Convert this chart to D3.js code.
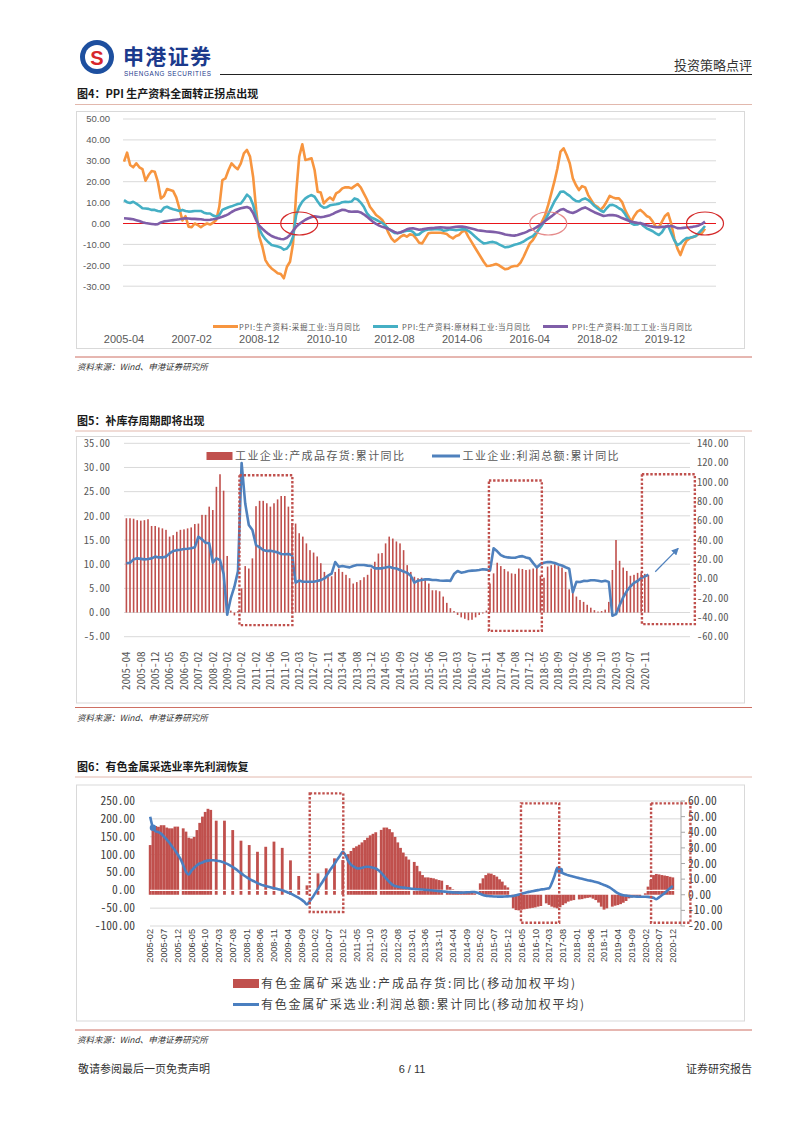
<!DOCTYPE html>
<html><head><meta charset="utf-8">
<script src="https://cdn.jsdelivr.net/npm/d3@7"></script>
<style>body{margin:0;background:#fff}svg{display:block}</style>
</head><body><svg id="c" width="802" height="1133"></svg>
<script>
// ================= DATA =================
// Chart 1 (图4): monthly, 2005-04 .. 2021-01
const c1Ticks = ['2005-04','2007-02','2008-12','2010-10','2012-08','2014-06','2016-04','2018-02','2019-12'];
const c1YTicks = [50,40,30,20,10,0,-10,-20,-30];
const c1Names = ['PPI:生产资料:采掘工业:当月同比','PPI:生产资料:原材料工业:当月同比','PPI:生产资料:加工工业:当月同比'];
const ppiMining = [29.6,33.9,28,26.9,28.8,26.9,26,20.5,23.2,25.1,
24.8,20,12,13.2,16.5,16,15.5,12.5,7.3,1.5,
3.5,-1.5,-1.8,0,-0.7,-1.8,-0.7,0,-0.5,0.4,
1.7,8,20.8,21.6,25.6,28.8,27.2,26,28.8,33.6,
35.2,32,22.4,6.5,-6.3,-11,-17.5,-19.9,-21.5,-22.6,
-23.8,-24.2,-26.2,-20.7,-18.3,-9.5,14.4,32,37.9,30.4,
30.7,31.2,25.6,15.2,14.8,9.6,11.2,12.5,11.2,14.4,
15.2,16.8,17.3,17.3,16.8,17.9,18.9,17.3,14.4,11.6,
8,6.1,4.1,3,1.7,-0.7,-4.4,-7.1,-8.7,-7.6,
-6.3,-5.5,-6.3,-5.2,-5.5,-7.1,-9.2,-9.5,-7.1,-4.7,
-4.4,-4.4,-4.4,-4.4,-4.7,-5,-6.3,-7.1,-6,-5.5,
-3.9,-3.4,-6.3,-8.7,-11.1,-13.5,-15.9,-18.3,-20.3,-20.2,
-19.9,-19.4,-20,-21,-21.9,-21.6,-20.7,-20.3,-20.3,-18.7,
-15.9,-12.7,-9.5,-7.9,-5.5,-2.3,0.9,4.1,8.9,14.4,
20,26.4,34.4,36,32.8,28.8,21.6,18.4,16,17.9,
17.3,13.6,11.2,8.9,8,6.5,8,10.4,13.2,12.5,
12,12,10.4,6.5,3.6,0.9,3.6,5.7,6.5,5.2,
3.6,2.9,0.9,-1.5,-1.8,0.9,3.6,4.9,0.1,-7.1,
-11.9,-15.1,-11.1,-8.2,-7.1,-6.6,-6,-5,-4.5,-2.5];
const ppiRaw = [11.2,10.2,9.8,10.4,9.5,8.5,7.3,7.2,7,6.5,
6.5,6,5.7,7.5,8,7.3,6.8,6.5,6,6.5,
6,5.7,5.8,6,6,6,5.2,4.8,4.8,3.8,
3.3,4,6.5,7.2,7.8,8.2,8.8,9.3,9.6,11.5,
13.8,12.5,9,3,-2.5,-5.5,-7.5,-9,-10.3,-10.6,
-11,-11.5,-12.5,-12,-10,-6.3,4,8,10.5,12,
13,13.6,12.8,10.5,8.5,7.6,7.8,8.7,9,9.2,
9.5,10.2,10.4,10.3,10.5,12,11.5,10,8,5,
3.3,2.5,1.8,1,0.3,-1,-2.5,-3.5,-4.5,-4.7,
-4.3,-3.8,-3.5,-3.3,-4,-5.5,-5.2,-4,-3.2,-2.9,
-2.8,-2.7,-2.7,-2.8,-3.5,-3.2,-2.8,-3,-3.2,-3,
-2.8,-2.7,-3.5,-4.6,-6,-7.3,-8.5,-9.5,-9.3,-9,
-8.8,-9.2,-10,-10.7,-11.4,-11.2,-10.8,-10.2,-9.8,-9.3,
-8.6,-7.6,-6.8,-6,-4.5,-2.8,-0.8,1.5,4.5,7.5,
10.5,12.8,15.2,15.3,14.2,13.2,11.8,10.8,10.5,11.5,
12,11.2,10,8.5,7.3,6.2,5.5,7.3,8.8,8.9,
8.3,7.3,6.5,4.5,2,0.1,-0.6,-0.5,0.3,-1.2,
-2.3,-3,-3.7,-4.7,-5.5,-4.2,-1.8,-1,-4.5,-8,
-10.3,-9.5,-8,-7,-6.8,-6.5,-6,-4.5,-3,-1.2];
const ppiProc = [2.5,2.4,2.2,2,1.6,1.2,0.6,0.2,0,-0.2,
-0.4,-0.3,0.5,1,1.2,1.4,1.6,1.8,2,2.3,
2.5,2.4,2.2,2.2,2.1,2,1.8,1.7,1.8,2,
2.3,2.8,3.2,3.8,4.5,5.5,6.3,6.8,7.3,7.6,
7.9,7.3,5,1.5,-1,-2.5,-3.8,-5,-6,-6.6,
-7.1,-7.4,-7.5,-6.8,-5.5,-3.5,-1.6,-0.3,0.8,1.8,
2.5,3.1,3.4,3.2,3,3.2,3.6,4,4.6,5.4,
6,6.6,6.4,5.8,5.6,5.7,5.7,5.3,4.4,3.3,
2,0.8,-0.2,-1,-1.6,-2,-2.6,-3.3,-4,-4.6,
-4.2,-3.5,-2.8,-2.4,-2.3,-2.6,-3,-2.8,-2.5,-2.3,
-2.2,-2.1,-1.9,-1.8,-1.9,-2.1,-2,-1.8,-1.6,-1.5,
-1.5,-1.7,-2,-2.4,-2.8,-3.2,-3.4,-3.6,-3.8,-3.9,
-4,-4.2,-4.4,-4.8,-5.3,-5.5,-5.7,-5.8,-5.5,-5,
-4.6,-4,-3.2,-2.8,-2,-1,0,1.2,2.3,3.4,
4.6,5.6,6.6,6.9,6,5.4,5,5.6,6.4,7.2,
7.7,7,6.2,5.4,4.8,4.2,3.6,3.8,4.1,4,
3.8,3.3,2.6,2,1.4,0.9,0.6,0.3,0.1,-0.3,
-0.8,-1.2,-1.5,-1.8,-1.8,-1.6,-1.5,-1.3,-1.2,-1.6,
-2.2,-2.3,-2.1,-1.9,-1.8,-1.6,-1.3,-0.9,-0.2,0.9];
const c1Circles = [{m:'2010-01',c:'#d42a2a'},{m:'2016-10',c:'#e58a8a'},{m:'2021-01',c:'#d42a2a'}];

// Chart 2 (图5)
const c2Cats = ['2005-04','2005-05','2005-06','2005-07','2005-08','2005-09','2005-10','2005-11','2005-12',
'2006-02','2006-03','2006-04','2006-05','2006-06','2006-07','2006-08','2006-09','2006-10','2006-11','2006-12',
'2007-02','2007-05','2007-08','2007-11','2008-02','2008-05','2008-08','2008-11',
'2009-02','2009-05','2009-08','2009-11','2010-02','2010-05','2010-08','2010-11',
'2011-02','2011-03','2011-04','2011-05','2011-06','2011-07','2011-08','2011-09','2011-10','2011-11','2011-12',
'2012-02','2012-03','2012-04','2012-05','2012-06','2012-07','2012-08','2012-09','2012-10','2012-11','2012-12',
'2013-02','2013-03','2013-04','2013-05','2013-06','2013-07','2013-08','2013-09','2013-10','2013-11','2013-12',
'2014-02','2014-03','2014-04','2014-05','2014-06','2014-07','2014-08','2014-09','2014-10','2014-11','2014-12',
'2015-02','2015-03','2015-04','2015-05','2015-06','2015-07','2015-08','2015-09','2015-10','2015-11','2015-12',
'2016-02','2016-03','2016-04','2016-05','2016-06','2016-07','2016-08','2016-09','2016-10','2016-11','2016-12',
'2017-02','2017-03','2017-04','2017-05','2017-06','2017-07','2017-08','2017-09','2017-10','2017-11','2017-12',
'2018-02','2018-03','2018-04','2018-05','2018-06','2018-07','2018-08','2018-09','2018-10','2018-11','2018-12',
'2019-02','2019-03','2019-04','2019-05','2019-06','2019-07','2019-08','2019-09','2019-10','2019-11','2019-12',
'2020-02','2020-03','2020-04','2020-05','2020-06','2020-07','2020-08','2020-09','2020-10','2020-11','2020-12'];
const c2Ticks = ['2005-04','2005-08','2005-12','2006-05','2006-09','2007-02','2008-02','2009-02','2010-02','2011-02','2011-06','2011-10',
'2012-03','2012-07','2012-11','2013-04','2013-08','2013-12','2014-05','2014-09','2015-02','2015-06','2015-10','2016-03','2016-07',
'2016-11','2017-04','2017-08','2017-12','2018-05','2018-09','2019-02','2019-06','2019-10','2020-03','2020-07','2020-11'];
const c2LeftTicks = [35,30,25,20,15,10,5,0,-5];
const c2RightTicks = [140,120,100,80,60,40,20,0,-20,-40,-60];
const c2Names = ['工业企业:产成品存货:累计同比','工业企业:利润总额:累计同比'];
const inventoryYoY = [19.5,19.5,19.4,19.1,19.0,19.1,19.3,17.9,17.9,
17.6,17.4,17.1,15.7,16.0,16.7,17.1,17.2,17.4,17.6,18.3,
18.4,20.2,20.2,21.9, 21.2,26.0,28.6,25.2, 11.7,0.4,-0.6,0.3, 5.0,9.6,9.1,11.2,
22.0,23.1,23.1,22.6,21.9,22.6,23.4,24.1,24.1,21.9,18.5,
18.4,16.4,15.7,14.3,12.9,12.4,11.6,10.2,8.4,7.4,7.5,
8.4,9.1,8.4,7.8,7.1,6.0,6.3,6.7,7.3,7.8,9.1,
10.5,12.2,12.3,14.3,15.7,15.3,14.7,14.3,12.9,9.8,8.4,
7.4,7.1,7.2,6.7,6.0,4.6,4.6,4.4,3.3,2.0,0.9,
0.3,-0.5,-1.0,-1.3,-1.6,-1.5,-1.0,-0.5,-0.2,0.4,6.0,
8.1,10.3,9.6,9.0,8.5,8.1,8.0,9.1,9.0,8.8,8.9,
9.1,9.3,7.6,7.2,9.5,9.8,10.0,9.6,9.3,8.4,4.8,
4.3,3.3,2.6,2.2,1.6,1.0,0.5,0.2,0.3,0.6,2.2,
8.8,15.0,10.7,9.3,8.6,7.6,7.8,8.2,8.3,8.0,7.8];
const profitYoY = [15.9,16.5,20,21,20.5,20,20.3,21,22.8,
22,22,22.8,26.2,28.6,29.5,30,30.7,31,31.4,32.4,
43.4,40.7,37.2,36.6, 16.6,21,19.3,4.9, -37.3,-20,-8.3,7.8, 119.7,78,55.5,50.3,
34.8,32.4,29.7,28.6,29,28,27.2,25.5,25.2,25.5,24.5,
-4.1,-2,-3.1,-3.1,-3.1,-3.1,-2.4,-1.5,0.3,3.1,5.3,
17.2,12.4,13.1,12.4,11.7,13.1,14.1,14.1,14.1,13.5,13.1,
10.7,10.7,10.7,11.5,12.4,11,10.5,9,7.5,6,3,
-4.2,-2.1,-1.4,-0.7,-0.7,-1.4,-1.4,-1.8,-2.1,-1.9,-2.3,
4.8,7.9,6.2,6.9,7.9,8.3,8.4,9,9.7,9.4,8.5,
31.5,28.3,24.4,22.7,22,21.6,21.6,22.8,23.3,21.9,21,
16.1,11.6,15,16.5,17.2,17.1,16.2,14.7,13.6,11.8,10.3,
-14,-3.3,-3.4,-2.3,-2.4,-1.7,-1.7,-2.1,-2.9,-2.1,-3.3,
-38.3,-36.7,-27.4,-19.3,-12.8,-8.1,-4.4,-2.4,0.7,2.4,4.1];
// dotted boxes: [fromIndex, toIndex, topValue(left), bottomValue(left)]
const c2Boxes = [[31.4,46.1,28.4,-2.6],[100.7,115.4,27.3,-3.8],[143.2,157.9,28.6,-2.4]];
const c2Arrow = [[146.9,7.2],[153.3,31.4]]; // [index, right-axis value]

// Chart 3 (图6): monthly 2005-02 .. 2020-12
const c3Ticks = ['2005-02','2005-07','2005-12','2006-05','2006-10','2007-03','2007-08','2008-01','2008-06','2008-11','2009-04','2009-09',
'2010-02','2010-07','2010-12','2011-05','2011-10','2012-03','2012-08','2013-01','2013-06','2013-11','2014-04','2014-09','2015-02',
'2015-07','2015-12','2016-05','2016-10','2017-03','2017-08','2018-01','2018-06','2018-11','2019-04','2019-09','2020-02','2020-07','2020-12'];
const c3LeftTicks = [250,200,150,100,50,0,-50,-100];
const c3RightTicks = [60,50,40,30,20,10,0,-10,-20];
const c3Names = ['有色金属矿采选业:产成品存货:同比(移动加权平均)','有色金属矿采选业:利润总额:累计同比(移动加权平均)'];
const metalInventory = [31.8,43,44,43.5,44.5,44.5,43,42.5,42.5,43.6,43.6,
null,42.5,40.4,36.5,36,37,41.4,46,50,53,55,54.3,
null,47.4,null,null,47.4,null,null,41.4,null,null,34.6,null,
null,31.8,null,null,27.5,null,null,30.7,null,null,34,null,
null,30,null,null,22,null,null,12,null,null,6,null,
null,null,13.7,null,null,16.9,null,null,23.3,null,null,22.2,
null,26,28,30,31,32,33.5,35,36.5,38,39,40,
null,41.5,43,43,42,40,37,33.5,30,27,24.5,22.5,
null,21,18.5,15,12.6,11.1,11.1,10.8,10.5,9.9,9.4,9,
null,6.2,5,3.5,3,2.6,2.2,2,2,1.6,1.3,0.9,
null,7.3,10.5,12.6,13.7,13.5,12.6,11.6,9.9,8.4,6,4.7,
null,-8.7,-9.8,-10,-9.6,-9.3,-9,-8.7,-8.4,-8.1,-7.6,-7.2,
null,-5.5,-6.5,-7.6,-8.2,-8.7,-8,-6.6,-5.5,-4.4,-3.8,-3.4,
null,-3,-2.8,-2.3,-2,-1.7,-2.5,-3.4,-5,-7.6,-9.5,-8.7,
null,-7.6,-7,-6.6,-6,-5.1,-4,-2.3,-1.8,-1.2,-1,-0.8,
null,0.9,5.2,9.4,12.6,13.3,13,12.6,12.3,12,11.5,11.1];
const metalProfit = [206,175,165,163,158,150,142,133,122,112,100,
88,70,52,44,55,63,70,75,78,81,83,84,
84,83,82,80,77,74,70,65,60,54,48,42,
37,32,28,24,20,17,14,12,10,8,6,4,
2,0,-3,-6,-9,-13,-17,-21,-26,-32,-40,-30,
-20,-8,4,16,28,40,52,63,74,86,97,108,
98,82,72,66,62,61,63,65,66,65,63,61,
56,49,40,31,23,16,12,10,8.5,7.5,6.5,5.5,
4.5,3.5,3,2.5,2,1.2,0.8,0,-0.8,-1.5,-2.3,-3,
-3.8,-4.5,-5.2,-5.8,-6.3,-6.6,-6.5,-6.2,-5.8,-5.3,-5,-4.8,
-7,-10,-13,-15,-16,-16.8,-17.3,-17.6,-17.8,-17.8,-17.5,-17,
-16.5,-16,-14,-12,-9.5,-7.5,-5.5,-4,-2.5,-1,0.5,2,
3,4.5,5.5,20,40,63,55,48,45,42,40,38,
36,34,32,30,28,27,25,23,21,18,15,12,
8,3,-3,-8,-12,-14,-15,-16,-17,-17.5,-17.8,-18,
-18,-18,-18.5,-19.5,-21,-25,-20,-14,-8,-1,6,12];
const c3Markers = ['2005-03','2017-07'];
// dotted boxes: [fromIndex, toIndex, topValue(right), bottomValue(right)]
const c3Boxes = [[58.0,70.2,64.9,-11],[134.8,148.7,58.5,-17.9],[182.1,196.4,58.5,-17.9]];

// ================= DRAW =================
const svg = d3.select('#c');
const CJK = '"Noto Sans CJK SC","Noto Sans",sans-serif';
const MONO = '"Noto Sans Mono CJK SC","DejaVu Sans Mono",monospace';
const LAT = '"Liberation Sans",Arial,sans-serif';
const fmtM = d3.timeFormat('%Y-%m');

// ---- header ----
svg.append('circle').attr('cx',97).attr('cy',57).attr('r',17).attr('fill','#1d4f9f');
svg.append('circle').attr('cx',97).attr('cy',57).attr('r',12).attr('fill','#fff');
svg.append('text').attr('x',97).attr('y',64.5).attr('text-anchor','middle').attr('font-family',LAT)
  .attr('font-weight','bold').attr('font-size',20).attr('fill','#d7262b').text('S');
svg.append('text').attr('x',123).attr('y',63.5).attr('font-family',CJK).attr('font-weight','bold')
  .attr('font-size',21).attr('fill','#1b3a8c').attr('textLength',88).text('申港证券');
svg.append('text').attr('x',124).attr('y',75.5).attr('font-family',LAT).attr('font-size',6.3)
  .attr('fill','#1b3a8c').attr('textLength',87).text('SHENGANG SECURITIES');
svg.append('line').attr('x1',220).attr('x2',752).attr('y1',74.5).attr('y2',74.5).attr('stroke','#222').attr('stroke-width',1);
svg.append('text').attr('x',752).attr('y',70).attr('text-anchor','end').attr('font-family',CJK)
  .attr('font-size',13).attr('fill','#333').text('投资策略点评');

function section(title, ty, boxTop, boxBot, srcY){
  svg.append('text').attr('x',77).attr('y',ty).attr('font-family',CJK).attr('font-weight','bold')
    .attr('font-size',11).attr('fill','#1a1a1a').text(title);
  svg.append('line').attr('x1',75).attr('x2',752).attr('y1',ty+6.5).attr('y2',ty+6.5).attr('stroke','#e2b8ad').attr('stroke-width',1);
  svg.append('rect').attr('x',76.5).attr('y',boxTop).attr('width',668).attr('height',boxBot-boxTop)
    .attr('fill','none').attr('stroke','#d9d9d9');
  svg.append('line').attr('x1',75).attr('x2',752).attr('y1',srcY).attr('y2',srcY).attr('stroke','#cd6f62').attr('stroke-width',1);
  svg.append('text').attr('x',77).attr('y',srcY+13).attr('font-family',CJK).attr('font-style','italic')
    .attr('font-size',8.5).attr('fill','#333').text('资料来源：Wind、申港证券研究所');
}
section('图4：PPI 生产资料全面转正拐点出现',98,111.5,348.5,357);
section('图5：补库存周期即将出现',424.5,436.5,703,707.5);
section('图6：有色金属采选业率先利润恢复',770.5,785,1021,1030);

// ---- footer ----
svg.append('text').attr('x',78).attr('y',1073).attr('font-family',CJK).attr('font-size',11).attr('fill','#333').text('敬请参阅最后一页免责声明');
svg.append('text').attr('x',412).attr('y',1073).attr('text-anchor','middle').attr('font-family',LAT).attr('font-size',11).attr('fill','#333').text('6 / 11');
svg.append('text').attr('x',752).attr('y',1073).attr('text-anchor','end').attr('font-family',CJK).attr('font-size',11).attr('fill','#333').text('证券研究报告');

// ================= Chart 1 =================
(function(){
  const months = d3.timeMonth.range(new Date(2005,3,1), new Date(2021,1,1)).map(fmtM);
  const x = d3.scalePoint().domain(months).range([124,705]);
  const y = d3.scaleLinear().domain([-30,50]).range([286.2,119]);
  const g = svg.append('g');
  g.selectAll('.gl').data(c1YTicks).join('line').attr('x1',123).attr('x2',716)
    .attr('y1',d=>y(d)).attr('y2',d=>y(d)).attr('stroke','#d9d9d9').attr('stroke-width',1);
  g.selectAll('.yl').data(c1YTicks).join('text').attr('x',110).attr('y',d=>y(d)).attr('dy','0.35em')
    .attr('text-anchor','end').attr('font-family',LAT).attr('font-size',9.5).attr('fill','#595959').text(d=>d.toFixed(2));
  g.append('line').attr('x1',123).attr('x2',716).attr('y1',y(0)).attr('y2',y(0)).attr('stroke','#e8141a').attr('stroke-width',1.2);
  const colors = ['#f7953f','#45afc4','#7f5ea8'];
  const series = [ppiMining, ppiRaw, ppiProc];
  const line = d3.line().x((d,i)=>x(months[i])).y(d=>y(d));
  series.forEach((s,k)=>{
    g.append('path').datum(s).attr('d',line).attr('fill','none').attr('stroke',colors[k])
      .attr('stroke-width',2.6).attr('stroke-linejoin','round');
  });
  c1Circles.forEach(c=>{
    g.append('ellipse').attr('cx',x(c.m)).attr('cy',y(0)).attr('rx',18.5).attr('ry',11.5)
      .attr('fill','none').attr('stroke',c.c).attr('stroke-width',1.2);
  });
  g.selectAll('.xl').data(c1Ticks).join('text').attr('x',d=>x(d)).attr('y',343).attr('text-anchor','middle')
    .attr('font-family',LAT).attr('font-size',11).attr('fill','#595959').text(d=>d);
  // legend
  const lx = [[213,239,121],[373,402,128],[543,572,120]];
  c1Names.forEach((n,k)=>{
    g.append('line').attr('x1',lx[k][0]).attr('x2',lx[k][0]+25).attr('y1',326.5).attr('y2',326.5)
      .attr('stroke',colors[k]).attr('stroke-width',3);
    g.append('text').attr('x',lx[k][1]).attr('y',329.5).attr('font-family',CJK).attr('font-size',7.5)
      .attr('fill','#595959').attr('textLength',lx[k][2]).text(n);
  });
})();

// ================= Chart 2 =================
(function(){
  const xi = d3.scaleLinear().domain([0,145]).range([126.4,648.4]);
  const yL = d3.scaleLinear().domain([-5,35]).range([636.7,443.3]);
  const yR = d3.scaleLinear().domain([-60,140]).range([636.7,443.3]);
  const g = svg.append('g');
  g.selectAll('.gl').data(c2LeftTicks).join('line').attr('x1',124).attr('x2',690)
    .attr('y1',d=>yL(d)).attr('y2',d=>yL(d)).attr('stroke','#d9d9d9');
  g.selectAll('.yl').data(c2LeftTicks).join('text').attr('x',110).attr('y',d=>yL(d)).attr('dy','0.35em')
    .attr('text-anchor','end').attr('font-family',MONO).attr('font-size',10.5).attr('fill','#595959').text(d=>d.toFixed(2));
  g.selectAll('.yr').data(c2RightTicks).join('text').attr('x',697).attr('y',d=>yR(d)).attr('dy','0.35em')
    .attr('font-family',MONO).attr('font-size',10.5).attr('fill','#595959').text(d=>d.toFixed(2));
  g.selectAll('.bar').data(inventoryYoY).join('rect')
    .attr('x',(d,i)=>xi(i)-0.8).attr('width',1.6)
    .attr('y',d=>Math.min(yL(d),yL(0))).attr('height',d=>Math.abs(yL(d)-yL(0)))
    .attr('fill','#c0504d');
  g.append('path').datum(profitYoY).attr('d',d3.line().x((d,i)=>xi(i)).y(d=>yR(d)))
    .attr('fill','none').attr('stroke','#4f81bd').attr('stroke-width',2.6).attr('stroke-linejoin','round');
  c2Boxes.forEach(b=>{
    g.append('rect').attr('x',xi(b[0])).attr('y',yL(b[2])).attr('width',xi(b[1])-xi(b[0])).attr('height',yL(b[3])-yL(b[2]))
      .attr('fill','none').attr('stroke','#c0504d').attr('stroke-width',2.4).attr('stroke-dasharray','2.4 1.8');
  });
  // arrow
  const defs = svg.append('defs');
  defs.append('marker').attr('id','arr').attr('viewBox','0 0 10 10').attr('refX',9).attr('refY',5)
    .attr('markerWidth',6).attr('markerHeight',6).attr('orient','auto')
    .append('path').attr('d','M0,0L10,5L0,10z').attr('fill','#4f81bd');
  g.append('line').attr('x1',xi(c2Arrow[0][0])).attr('y1',yR(c2Arrow[0][1]))
    .attr('x2',xi(c2Arrow[1][0])).attr('y2',yR(c2Arrow[1][1]))
    .attr('stroke','#4f81bd').attr('stroke-width',1.2).attr('marker-end','url(#arr)');
  // x labels
  g.selectAll('.xl').data(c2Ticks).join('text')
    .attr('transform',d=>`translate(${xi(c2Cats.indexOf(d))},651.5) rotate(-90)`)
    .attr('text-anchor','end').attr('dy','0.35em').attr('font-family',MONO).attr('font-size',11)
    .attr('fill','#595959').text(d=>d);
  // legend
  g.append('rect').attr('x',206.5).attr('y',452).attr('width',26).attr('height',8).attr('fill','#c0504d');
  g.append('text').attr('x',235).attr('y',460).attr('font-family',CJK).attr('font-size',11)
    .attr('fill','#595959').attr('textLength',169).text(c2Names[0]);
  g.append('line').attr('x1',432).attr('x2',460).attr('y1',456).attr('y2',456).attr('stroke','#4f81bd').attr('stroke-width',3);
  g.append('text').attr('x',462.5).attr('y',460).attr('font-family',CJK).attr('font-size',11)
    .attr('fill','#595959').attr('textLength',156).text(c2Names[1]);
})();

// ================= Chart 3 =================
(function(){
  const months = d3.timeMonth.range(new Date(2005,1,1), new Date(2021,0,1)).map(fmtM);
  const x = d3.scalePoint().domain(months).range([150.2,672.8]);
  const xi = d3.scaleLinear().domain([0,months.length-1]).range([150.2,672.8]);
  const yL = d3.scaleLinear().domain([-100,250]).range([926,801]);
  const yR = d3.scaleLinear().domain([-20,60]).range([926,801]);
  const g = svg.append('g');
  g.selectAll('.gl').data(c3LeftTicks).join('line').attr('x1',150).attr('x2',681)
    .attr('y1',d=>yL(d)).attr('y2',d=>yL(d)).attr('stroke','#d9d9d9');
  g.selectAll('.yl').data(c3LeftTicks).join('text').attr('x',135).attr('y',d=>yL(d)).attr('dy','0.35em')
    .attr('text-anchor','end').attr('font-family',MONO).attr('font-size',11.5).attr('fill','#404040').text(d=>d.toFixed(2));
  const bw = x.step()*1.02;
  g.selectAll('.bar').data(metalInventory.map((v,i)=>({v,m:months[i]})).filter(d=>d.v!==null)).join('rect')
    .attr('x',d=>x(d.m)-bw/2).attr('width',bw)
    .attr('y',d=>Math.min(yR(d.v),yR(0))).attr('height',d=>Math.abs(yR(d.v)-yR(0)))
    .attr('fill','#c0504d');
  g.append('line').attr('x1',150).attr('x2',681).attr('y1',yL(0)).attr('y2',yL(0)).attr('stroke','#fff').attr('stroke-width',1.3);
  g.append('path').datum(metalProfit).attr('d',d3.line().x((d,i)=>x(months[i])).y(d=>yL(d)).curve(d3.curveMonotoneX))
    .attr('fill','none').attr('stroke','#4a7fc0').attr('stroke-width',2.6).attr('stroke-linejoin','round');
  g.selectAll('.mk').data(c3Markers).join('circle').attr('cx',d=>x(d)).attr('cy',d=>yL(metalProfit[months.indexOf(d)]))
    .attr('r',3.2).attr('fill','#4a7fc0');
  // right axis
  g.append('line').attr('x1',681).attr('x2',681).attr('y1',801).attr('y2',926).attr('stroke','#a6a6a6');
  g.selectAll('.rt').data(c3RightTicks).join('line').attr('x1',681).attr('x2',685)
    .attr('y1',d=>yR(d)).attr('y2',d=>yR(d)).attr('stroke','#a6a6a6');
  g.selectAll('.yr').data(c3RightTicks).join('text').attr('x',688).attr('y',d=>yR(d)).attr('dy','0.35em')
    .attr('font-family',MONO).attr('font-size',11.5).attr('fill','#404040').text(d=>d.toFixed(2));
  c3Boxes.forEach(b=>{
    g.append('rect').attr('x',xi(b[0])).attr('y',yR(b[2])).attr('width',xi(b[1])-xi(b[0])).attr('height',yR(b[3])-yR(b[2]))
      .attr('fill','none').attr('stroke','#c0504d').attr('stroke-width',2.4).attr('stroke-dasharray','2.4 1.8');
  });
  g.selectAll('.xl').data(c3Ticks).join('text')
    .attr('transform',d=>`translate(${x(d)},929) rotate(-90)`)
    .attr('text-anchor','end').attr('dy','0.35em').attr('font-family',LAT).attr('font-size',9.2)
    .attr('fill','#404040').text(d=>d);
  // legend
  g.append('rect').attr('x',233).attr('y',979).attr('width',26).attr('height',9).attr('fill','#c0504d');
  g.append('text').attr('x',261).attr('y',988).attr('font-family',CJK).attr('font-size',12)
    .attr('fill','#404040').attr('textLength',314).text(c3Names[0]);
  g.append('line').attr('x1',233).attr('x2',259).attr('y1',1004.5).attr('y2',1004.5).attr('stroke','#4a7fc0').attr('stroke-width',3);
  g.append('text').attr('x',261).attr('y',1009).attr('font-family',CJK).attr('font-size',12)
    .attr('fill','#404040').attr('textLength',323).text(c3Names[1]);
})();
</script></body></html>
